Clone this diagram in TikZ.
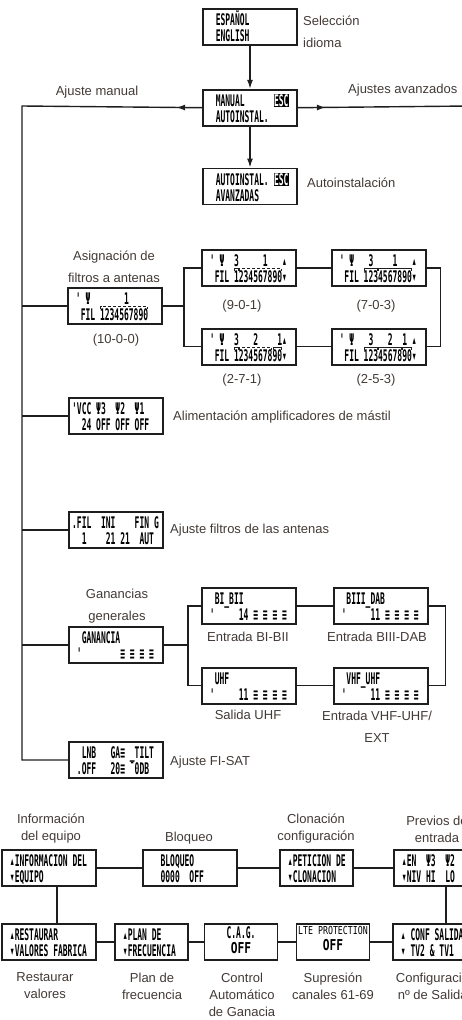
\documentclass[tikz,border=0pt]{standalone}
\usepackage{fontspec}
\usetikzlibrary{arrows.meta, positioning, calc, decorations.markings}
\setmainfont{Liberation Sans}
\newfontfamily\lcdfont[FakeStretch=0.5]{DejaVu Sans Mono}
\newfontfamily\lcdbig[FakeStretch=0.75]{DejaVu Sans Mono}
\definecolor{lblcolor}{RGB}{66,58,54}
\definecolor{linecolor}{RGB}{30,30,30}
\tikzset{
    lcdbox/.style={rectangle, draw=linecolor, line width=1.7pt, fill=white,
        minimum width=94pt, minimum height=36pt, inner sep=0pt},
    lcdline/.style={anchor=base west, inner sep=0pt, font=\lcdfont\bfseries\fontsize{16}{17}\selectfont},
    lcdmid/.style={anchor=base, inner sep=0pt, font=\lcdfont\bfseries\fontsize{16}{17}\selectfont},
    lbl/.style={inner sep=0pt, align=center, text=lblcolor, font=\fontsize{13}{17}\selectfont},
    lblwide/.style={lbl, font=\fontsize{13}{22}\selectfont},
    link/.style={draw=linecolor, line width=1.4pt},
    arrow/.style={link, -{Latex[length=9pt,width=6pt]}},
    midarrow/.style={postaction={decorate, decoration={markings,
        mark=at position #1 with {\arrow{Latex[length=9pt,width=6pt]}}}}},
    brk/.style={line width=0.8pt, draw=linecolor}
}
% one LCD screen: box + two text lines
\newcommand{\lcdscreen}[4][]{%
    \node[lcdbox, #1] (#2) {};
    \node[lcdline] (#2-a) at ($(#2.north west)+(8.6,17.5)$) {#3};
    \node[lcdline] (#2-b) at ($(#2.north west)+(8.6,33.5)$) {#4};
}
% bracket over filter digits #3..#4 of screen #2
\newcommand{\fgroup}[4][]{%
    \draw[brk, #1] ($(#2.north west)+({8.6+4.82*(4+#3)+0.7},22)$) -- ++(0,-2.5)
        -- ++({4.82*(#4-#3+1)-1.4},0) -- ++(0,2.5);
}
\newcommand{\escbox}{{\setlength{\fboxsep}{0.5pt}\colorbox{black}{\color{white}ESC}}}

\begin{document}
\begin{tikzpicture}[x=1pt, y=-1pt]
    \useasboundingbox (0,0) rectangle (462,1020);
    \clip (0,0) rectangle (462,1020);

    % start menu
    \lcdscreen[at={(250,27)}]{lang}{~ESPAÑOL}{~ENGLISH}
    \lcdscreen[below=43pt of lang]{menu}{~MANUAL~~~~~~\escbox}{~AUTOINSTAL.}
    \lcdscreen[below=41pt of menu]{auto}{~AUTOINSTAL.~\escbox}{~AVANZADAS}

    \node[lblwide, anchor=west, align=left] (l-lang) at (303,32) {Selección\\idioma};
    \node[lbl, anchor=base] (l-man) at (97,95) {Ajuste manual};
    \node[lbl, anchor=base west] (l-adv) at (348,93) {Ajustes avanzados};
    \node[lbl, anchor=base west] (l-auto) at (307,187) {Autoinstalación};

    % manual settings
    \lcdscreen[at={(115,306)}]{fil0}{'~Ψ~~~~~~~1}{~FIL~1234567890}
    \lcdscreen[at={(249,268)}]{fil1}{'~Ψ~~3~~~~~1~~~▴}{~FIL~1234567890▾}
    \lcdscreen[right=34pt of fil1]{fil2}{'~Ψ~~~3~~~~1~~~▴}{~FIL~1234567890▾}
    \lcdscreen[below=41pt of fil1]{fil3}{'~Ψ~~3~~~2~~~~1▴}{~FIL~1234567890▾}
    \lcdscreen[right=34pt of fil3]{fil4}{'~Ψ~~~3~~~2~~1~▴}{~FIL~1234567890▾}
    \fgroup[densely dashed]{fil0}{1}{10}
    \fgroup{fil1}{1}{1} \fgroup[densely dashed]{fil1}{2}{10}
    \fgroup{fil2}{1}{3} \fgroup{fil2}{4}{10}
    \fgroup{fil3}{1}{1} \fgroup[densely dashed]{fil3}{2}{8} \fgroup{fil3}{9}{10}
    \fgroup{fil4}{1}{3} \fgroup{fil4}{4}{8} \fgroup{fil4}{9}{10}

    \node[lblwide] (l-fil) at (114,267) {Asignación de\\filtros a antenas};
    \node[lbl, anchor=base] (l-fil0) at (116,343) {(10-0-0)};
    \node[lbl, anchor=base] (l-fil1) at (242,309) {(9-0-1)};
    \node[lbl, anchor=base] (l-fil2) at (376,309) {(7-0-3)};
    \node[lbl, anchor=base] (l-fil3) at (242,383) {(2-7-1)};
    \node[lbl, anchor=base] (l-fil4) at (376,383) {(2-5-3)};

    \lcdscreen[at={(116,416)}]{vcc}{\llap{'}VCC~Ψ3~~Ψ2~~Ψ1}{~24~OFF~OFF~OFF}
    \node[lbl, anchor=base west] (l-vcc) at (173,420.5) {Alimentación amplificadores de mástil};

    \lcdscreen[at={(116,530)}]{filadj}{\llap{.}FIL~~INI~~~~FIN~G}{~1~~~~21~21~~AUT}
    \node[lbl, anchor=base west] (l-filadj) at (170,533) {Ajuste filtros de las antenas};

    \lcdscreen[at={(116,645)}]{gain}{~GANANCIA}{'~~~~~~~~≡~≡~≡~≡}
    \lcdscreen[at={(249,606)}]{g1}{~BI\_BII}{'~~~~~14~≡~≡~≡~≡}
    \lcdscreen[right=36pt of g1]{g2}{~BIII\_DAB}{'~~~~~11~≡~≡~≡~≡}
    \lcdscreen[below=42pt of g1]{g3}{~UHF}{'~~~~~11~≡~≡~≡~≡}
    \lcdscreen[right=36pt of g3]{g4}{~VHF\_UHF}{'~~~~~11~≡~≡~≡~≡}

    \node[lblwide] (l-gain) at (117,606) {Ganancias\\generales};
    \node[lbl, anchor=base] (l-g1) at (248,641) {Entrada BI-BII};
    \node[lbl, anchor=base] (l-g2) at (377,641) {Entrada BIII-DAB};
    \node[lbl, anchor=base] (l-g3) at (248,719) {Salida UHF};
    \node[lblwide] (l-g4) at (377,727) {Entrada VHF-UHF/\\EXT};

    \lcdscreen[at={(116,760)}]{lnb}{~LNB~~~GA≡~\_TILT}{.OFF~~~20≡~¯0DB}
    \node[lbl, anchor=base west] (l-lnb) at (170,765) {Ajuste FI-SAT};

    % manual trunk
    \coordinate (mtop) at (22,106);
    \coordinate (mbot) at (lnb.west -| mtop);
    \coordinate (adv) at (470,106);
    \draw[arrow] (lang) -- (menu);
    \draw[arrow] (menu) -- (auto);
    \draw[link, midarrow=26pt] (menu.west) -- (mtop) -- (mbot) -- (lnb.west);
    \draw[link, midarrow=28pt] (menu.east) -- (adv);
    \draw[link] (fil0.west) -- (fil0.west -| mtop);
    \draw[link] (vcc.west) -- (vcc.west -| mtop);
    \draw[link] (filadj.west) -- (filadj.west -| mtop);
    \draw[link] (gain.west) -- (gain.west -| mtop);

    \coordinate (fsplit) at ($(fil0.east)+(21,0)$);
    \draw[link] (fil0.east) -- (fsplit);
    \draw[link] (fil1.west) -| (fsplit);
    \draw[link] (fil3.west) -| (fsplit);
    \draw[link] (fil1) -- (fil2);
    \draw[link] (fil3) -- (fil4);
    \draw[link] (fil2.east) -- ++(14,0) |- (fil4.east);

    \coordinate (gsplit) at ($(gain.east)+(24,0)$);
    \draw[link] (gain.east) -- (gsplit);
    \draw[link] (g1.west) -| (gsplit);
    \draw[link] (g3.west) -| (gsplit);
    \draw[link] (g1) -- (g2);
    \draw[link] (g3) -- (g4);
    \draw[link] (g2.east) -- ++(17,0) |- (g4.east);

    % advanced settings
    \lcdscreen[at={(49,868)}]{info}{▴INFORMACION~DEL}{▾EQUIPO}
    \lcdscreen[at={(190,868)}]{bloq}{~~BLOQUEO}{~~0000~~OFF}
    \lcdscreen[at={(316.5,868)}, minimum width=73pt]{clon}{▴PETICION~DE}{▾CLONACION}
    \lcdscreen[at={(441,868)}]{prev}{▴EN~~Ψ3~~Ψ2}{▾NIV~HI~~LO}

    \lcdscreen[at={(49,942)}]{rest}{▴RESTAURAR}{▾VALORES~FABRICA}
    \lcdscreen[at={(151.5,942)}, minimum width=73pt]{plan}{▴PLAN~DE}{▾FRECUENCIA}
    \node[lcdbox, minimum width=73pt] (cag) at (241,942) {};
    \node[lcdmid] (cag-a) at ($(cag.north)+(0,15)$) {C.A.G.};
    \node[lcdmid, font=\lcdbig\bfseries\fontsize{15}{17}\selectfont] (cag-b) at ($(cag.north)+(0,30)$) {OFF};
    \node[lcdbox, minimum width=73pt] (lte) at (333,942) {};
    \node[lcdmid, font=\lcdbig\fontsize{11}{12}\selectfont] (lte-a) at ($(lte.north)+(0,11)$) {LTE PROTECTION};
    \node[lcdmid, font=\lcdbig\bfseries\fontsize{15}{17}\selectfont] (lte-b) at ($(lte.north)+(0,27)$) {OFF};
    \lcdscreen[at={(440,942)}]{conf}{▴~CONF~SALIDAS}{▾~TV2~\&~TV1}

    \draw[link] (info) -- (bloq);
    \draw[link] (bloq) -- (clon);
    \draw[link] (clon) -- (prev);
    \draw[link] ([xshift=8pt]info.south) -- ([xshift=8pt]info.south |- rest.north);
    \draw[link] ([xshift=5pt]prev.south) -- ([xshift=5pt]prev.south |- conf.north);
    \draw[link] (rest) -- (plan);
    \draw[link] (plan) -- (cag);
    \draw[link] (cag) -- (lte);
    \draw[link] (lte) -- (conf);

    \node[lbl] (l-info) at (51,829) {Información\\del equipo};
    \node[lbl, anchor=base] (l-bloq) at (189,841) {Bloqueo};
    \node[lbl] (l-clon) at (316,829) {Clonación\\configuración};
    \node[lbl] (l-prev) at (437,829) {Previos de\\entrada};
    \node[lbl] (l-rest) at (45,986) {Restaurar\\valores};
    \node[lbl] (l-plan) at (152,986) {Plan de\\frecuencia};
    \node[lbl] (l-cag) at (242,994.5) {Control\\Automático\\de Ganacia};
    \node[lbl] (l-lte) at (333,986) {Supresión\\canales 61-69};
    \node[lbl] (l-conf) at (436,986) {Configuración\\nº de Salidas};

\end{tikzpicture}
\end{document}
